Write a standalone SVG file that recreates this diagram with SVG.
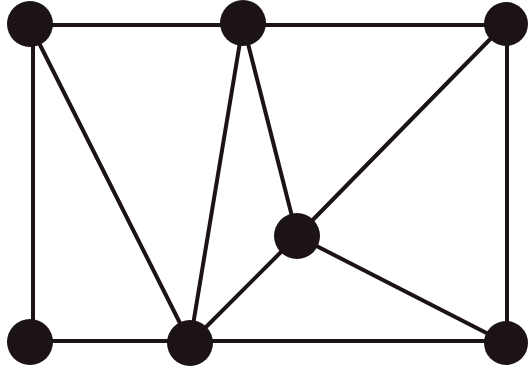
<svg xmlns="http://www.w3.org/2000/svg" width="528" height="371" viewBox="0 0 528 371">
<style>
.e{stroke:#1c1414;stroke-width:4;fill:none;stroke-linecap:round}
.n{fill:#1c1414}
</style>
<rect width="528" height="371" fill="#fff"/>
<g id="connectors">
<line class="e" x1="30" y1="25" x2="243" y2="25"/>
<line class="e" x1="243" y1="25" x2="505" y2="25"/>
<line class="e" x1="33" y1="25" x2="33" y2="342"/>
<line class="e" x1="507" y1="25" x2="507" y2="342"/>
<line class="e" x1="30" y1="341" x2="190" y2="341"/>
<line class="e" x1="190" y1="341" x2="506" y2="341"/>
<line class="e" x1="30" y1="25" x2="190" y2="343"/>
<line class="e" x1="243" y1="24" x2="190" y2="343"/>
<line class="e" x1="243" y1="24" x2="297" y2="236"/>
<line class="e" x1="505" y1="24" x2="297" y2="236"/>
<line class="e" x1="297" y1="236" x2="190" y2="343"/>
<line class="e" x1="297" y1="236" x2="506" y2="343"/>
</g>
<g id="n1"><circle class="n" cx="30" cy="24" r="23"/></g>
<g id="n2"><circle class="n" cx="243" cy="23" r="23"/></g>
<g id="n3"><circle class="n" cx="506" cy="24" r="22"/></g>
<g id="n4"><circle class="n" cx="297" cy="236" r="23"/></g>
<g id="n5"><circle class="n" cx="30" cy="342" r="23"/></g>
<g id="n6"><circle class="n" cx="190" cy="343" r="23"/></g>
<g id="n7"><circle class="n" cx="506" cy="343" r="22"/></g>
</svg>
